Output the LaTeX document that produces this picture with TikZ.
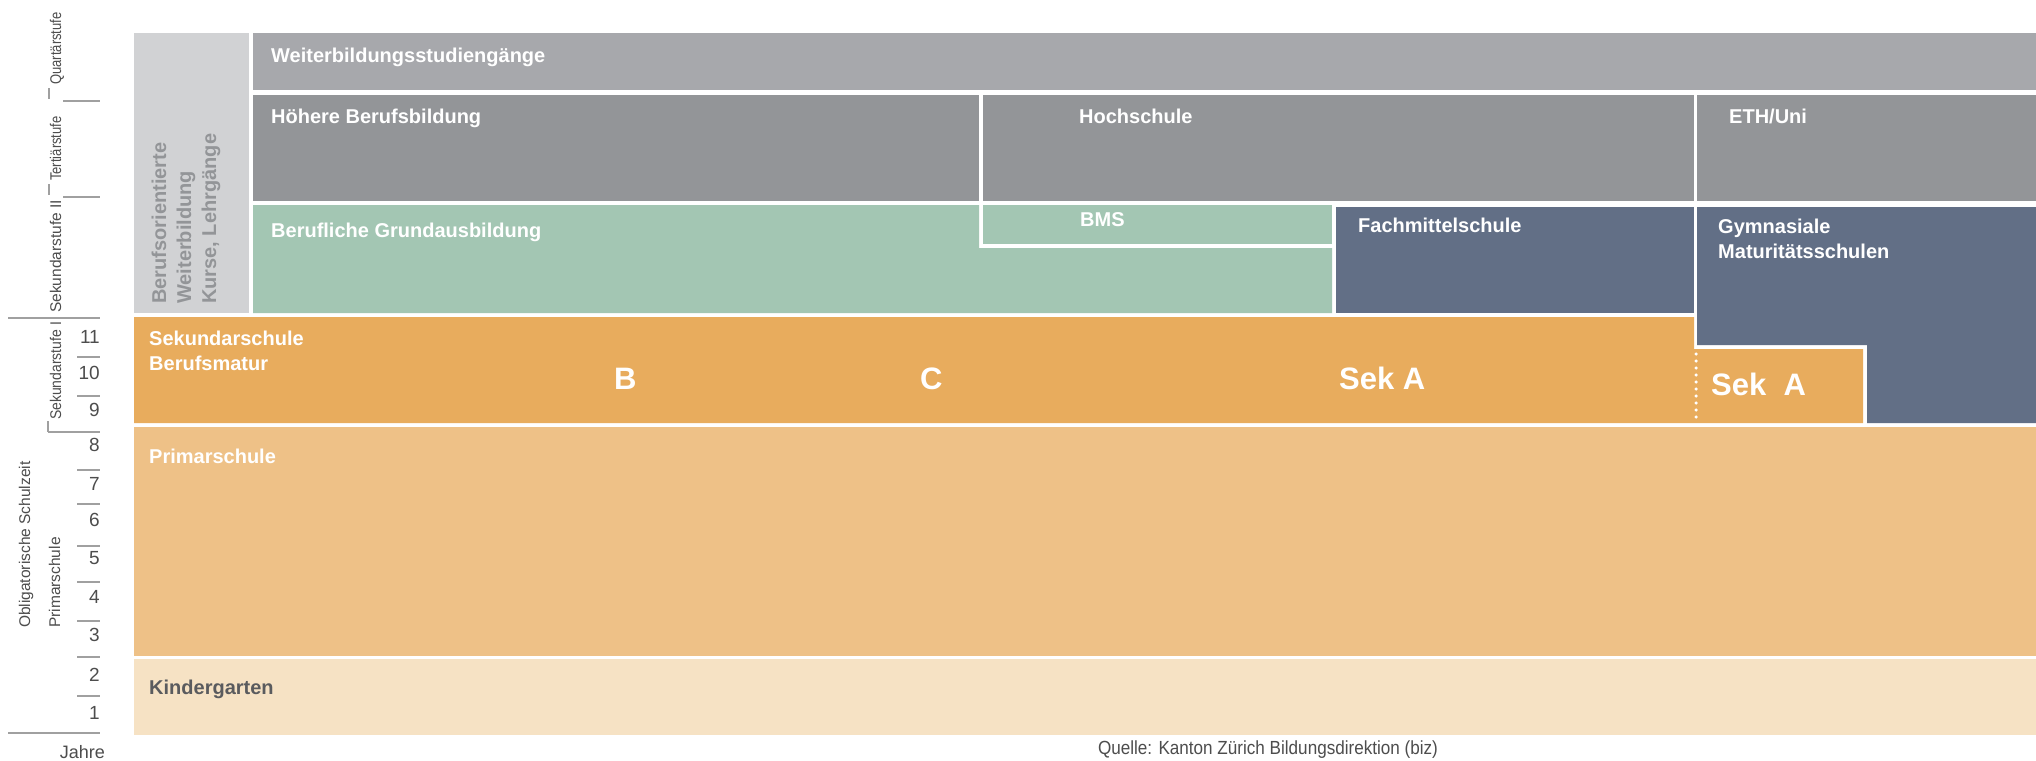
\documentclass[tikz,border=0pt]{standalone}
\usepackage{fontspec}
\setmainfont{Liberation Sans}
\newfontfamily\quellefont[FakeStretch=0.9]{Liberation Sans}
\newfontfamily\condfont[FakeStretch=0.84]{Liberation Sans}
\definecolor{cLeft}{HTML}{D1D2D4}
\definecolor{cWeiter}{HTML}{A7A8AC}
\definecolor{cHoch}{HTML}{939598}
\definecolor{cGreen}{HTML}{A3C6B3}
\definecolor{cBlue}{HTML}{626F86}
\definecolor{cSek}{HTML}{E8AC5D}
\definecolor{cPrim}{HTML}{EEC187}
\definecolor{cKind}{HTML}{F6E2C4}
\definecolor{cDark}{HTML}{5A5B5E}
\definecolor{axtext}{HTML}{4D4D4D}
\definecolor{axline}{HTML}{A0A0A0}
\begin{document}
\begin{tikzpicture}[x=1pt,y=-1pt,
  blk/.style={inner sep=0pt, anchor=base west, text=white, font=\bfseries\fontsize{20}{25}\selectfont},
  bigl/.style={blk, font=\bfseries\fontsize{31}{36}\selectfont},
  sidel/.style={inner sep=0pt, anchor=base west, rotate=90, text=cHoch, font=\bfseries\fontsize{20}{25}\selectfont},
  axl/.style={inner sep=0pt, anchor=base west, rotate=90, text=axtext, font=\fontsize{15.5}{18}\selectfont},
  axs/.style={axl, font=\condfont\fontsize{15.5}{18}\selectfont},
  num/.style={inner sep=0pt, anchor=east, text=axtext, font=\fontsize{19}{22}\selectfont},
  axrule/.style={draw=axline, line width=1.4pt},
]
\useasboundingbox (0,0) rectangle (2036,760);
\fill[white] (0,0) rectangle (2036,760);

% ---- boxes ----
\fill[cLeft] (134,33) rectangle (249,313);
\fill[cWeiter] (253,33) rectangle (2036,90);
\fill[cHoch] (253,95) rectangle (979,201);
\fill[cHoch] (983,95) rectangle (1694,201);
\fill[cHoch] (1697,95) rectangle (2036,201);
\fill[cGreen] (253,205) -- (979,205) -- (979,248) -- (1332,248) -- (1332,313) -- (253,313) -- cycle;
\fill[cGreen] (983,205) rectangle (1332,244);
\fill[cBlue] (1336,207) rectangle (1694,313);
\fill[cBlue] (1697,207) -- (2036,207) -- (2036,423) -- (1867,423) -- (1867,345) -- (1697,345) -- cycle;
\fill[cSek] (134,317) -- (1694,317) -- (1694,349) -- (1863,349) -- (1863,423) -- (134,423) -- cycle;
\fill[cPrim] (134,427) rectangle (2036,656);
\fill[cKind] (134,659) rectangle (2036,735);
\coordinate (dotA) at (1696,354);
\coordinate (dotB) at (1696,423);
\draw[white, line width=3.5pt, line cap=round, dash pattern=on 0pt off 7pt] (dotA) -- (dotB);

% ---- box labels ----
\node[blk] (weiterT) at (271,63) {Weiterbildungsstudiengänge};
\node[blk] (hoeherT) at (271,123) {Höhere Berufsbildung};
\node[blk] (hochT) at (1079,123) {Hochschule};
\node[blk] (ethT) at (1729,123) {ETH/Uni};
\node[blk] (grundT) at (271,237) {Berufliche Grundausbildung};
\node[blk] (bmsT) at (1080,226) {BMS};
\node[blk] (fachT) at (1358,232) {Fachmittelschule};
\node[blk] (gymT) at (1718,233) {Gymnasiale};
\node[blk] (matT) at (1718,258) {Maturitätsschulen};
\node[blk] (sekT) at (149,345) {Sekundarschule};
\node[blk] (bmT) at (149,370) {Berufsmatur};
\node[bigl] (bT) at (614,389) {B};
\node[bigl] (cT) at (920,389) {C};
\node[bigl] (sekaT) at (1339,389) {Sek A};
\node[bigl] (sekbT) at (1711,395) {Sek\ \ A};
\node[blk] (primT) at (149,463) {Primarschule};
\node[blk, text=cDark] (kindT) at (149,694) {Kindergarten};
\node[sidel] (side1) at (166,304) {Berufsorientierte};
\node[sidel] (side2) at (191,304) {Weiterbildung};
\node[sidel] (side3) at (216,304) {Kurse, Lehrgänge};

% ---- axis ----
\coordinate (r0a) at (8,318);  \coordinate (r0b) at (100,318);
\coordinate (r1a) at (63,101); \coordinate (r1b) at (100,101);
\coordinate (r2a) at (63,197); \coordinate (r2b) at (100,197);
\coordinate (r3a) at (48,432); \coordinate (r3b) at (100,432);
\coordinate (r4a) at (8,733);  \coordinate (r4b) at (100,733);
\draw[axrule] (r0a) -- (r0b);
\draw[axrule] (r1a) -- (r1b);
\draw[axrule] (r2a) -- (r2b);
\draw[axrule] (r3a) -- (r3b);
\draw[axrule] (r4a) -- (r4b);
\foreach \yy in {357,396,470,504,546,582,621,657,696}{
  \draw[axrule] (77,\yy) -- (100,\yy);
}
\draw[axrule] (49,88) -- (49,99);
\draw[axrule] (49,184) -- (49,195);
\draw[axrule] (48,421) -- (48,432);

\node[axs] (quart) at (61,85) {Quartärstufe};
\node[axs] (tert) at (61,181) {Tertiärstufe};
\node[axl] (sek2) at (61,313) {Sekundarstufe II};
\node[axl, font=\quellefont\fontsize{15.5}{18}\selectfont] (sek1) at (61,420) {Sekundarstufe I};
\node[axl] (primL) at (60,628) {Primarschule};
\node[axl] (oblig) at (30,628) {Obligatorische Schulzeit};

\node[num] (n11) at (100,337) {11};
\node[num] (n10) at (100,373) {10};
\node[num] (n9) at (100,410) {9};
\node[num] (n8) at (100,445) {8};
\node[num] (n7) at (100,484) {7};
\node[num] (n6) at (100,520) {6};
\node[num] (n5) at (100,558) {5};
\node[num] (n4) at (100,597) {4};
\node[num] (n3) at (100,635) {3};
\node[num] (n2) at (100,675) {2};
\node[num] (n1) at (100,713) {1};
\node[num, font=\fontsize{18}{22}\selectfont] (jahre) at (105,752) {Jahre};

\node[inner sep=0pt, anchor=base, text=axtext, font=\quellefont\fontsize{19}{22}\selectfont] (quelle) at (1268,754) {Quelle: Kanton Zürich Bildungsdirektion (biz)};
\end{tikzpicture}
\end{document}
